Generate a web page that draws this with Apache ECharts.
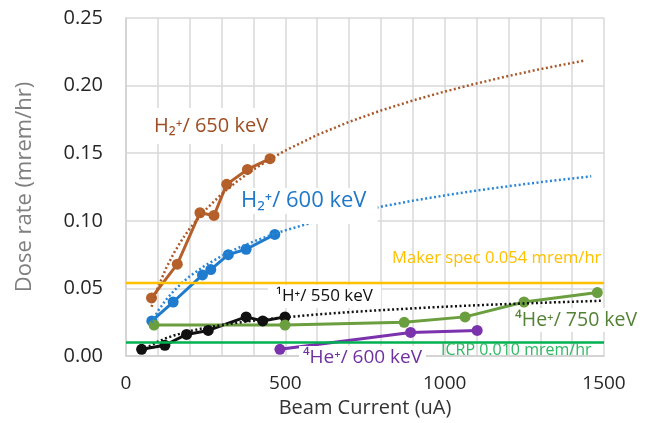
<!DOCTYPE html>
<html>
<head>
<meta charset="utf-8">
<script src="https://cdn.jsdelivr.net/npm/echarts@6/dist/echarts.min.js"></script>
<style>html,body{margin:0;padding:0;background:#fff;}#c{width:657px;height:423px;}</style>
</head>
<body>
<div id="c"></div>
<script>
// ---- data ----
const h2_650X = [80, 161, 232, 276, 316, 381, 452];
const h2_650Y = [0.043, 0.068, 0.106, 0.104, 0.127, 0.138, 0.146];
const h2_650TrendX = [80, 100, 125, 150, 175, 200, 250, 300, 350, 400, 450, 500, 600, 700, 800, 900, 1000, 1100, 1200, 1300, 1440];
const h2_650TrendY = [0.0365, 0.0506, 0.0646, 0.0761, 0.0858, 0.0943, 0.1083, 0.1198, 0.1295, 0.1379, 0.1453, 0.152, 0.1635, 0.1732, 0.1816, 0.189, 0.1956, 0.2016, 0.2071, 0.2122, 0.2186];

const h2_600X = [81, 148, 240, 266, 321, 377, 467];
const h2_600Y = [0.026, 0.040, 0.060, 0.064, 0.075, 0.079, 0.090];
const h2_600TrendX = [80, 100, 125, 150, 175, 200, 250, 300, 350, 400, 450, 500, 600, 700, 800, 900, 1000, 1100, 1200, 1300, 1460];
const h2_600TrendY = [0.0249, 0.0332, 0.0415, 0.0482, 0.0540, 0.0590, 0.0673, 0.0740, 0.0798, 0.0847, 0.0891, 0.0930, 0.0998, 0.1056, 0.1105, 0.1149, 0.1188, 0.1224, 0.1256, 0.1286, 0.1329];

const h1_550X = [49, 122, 190, 258, 377, 429, 499];
const h1_550Y = [0.005, 0.008, 0.016, 0.019, 0.029, 0.026, 0.029];
const h1_550TrendX = [50, 75, 100, 125, 150, 200, 250, 300, 350, 400, 450, 500, 600, 700, 800, 900, 1000, 1100, 1200, 1300, 1490];
const h1_550TrendY = [0.0029, 0.0075, 0.0107, 0.0132, 0.0152, 0.0185, 0.0210, 0.0230, 0.0247, 0.0262, 0.0275, 0.0287, 0.0308, 0.0325, 0.0340, 0.0353, 0.0365, 0.0376, 0.0385, 0.0394, 0.0409];

const he4_750X = [88, 499, 873, 1064, 1249, 1479];
const he4_750Y = [0.023, 0.023, 0.025, 0.029, 0.040, 0.047];

const he4_600X = [483, 893, 1102];
const he4_600Y = [0.005, 0.0175, 0.019];

const makerSpec = 0.054;
const icrp = 0.010;

const xTickLabels = [0, 500, 1000, 1500];
const yTickStep = 0.05;

const pairs = (xs, ys) => xs.map((x, i) => [x, ys[i]]);

const chart = echarts.init(document.getElementById('c'), null, {renderer: 'canvas'});
const FONT = '"Open Sans", "Noto Sans", sans-serif';

function dataSeries(name, xs, ys, color) {
  return {
    name, type: 'line', data: pairs(xs, ys),
    symbol: 'circle', symbolSize: 11,
    lineStyle: {color, width: 3},
    itemStyle: {color},
    z: 3, animation: false
  };
}
function trendSeries(name, xs, ys, color) {
  return {
    name, type: 'line', data: pairs(xs, ys),
    showSymbol: false, symbol: 'none',
    smooth: false,
    lineStyle: {color, width: 2.5, type: [2, 2.5]},
    z: 4, animation: false
  };
}
function hLine(name, val, color) {
  return {
    name, type: 'line', data: [[0, val], [1500, val]],
    showSymbol: false, symbol: 'none',
    lineStyle: {color, width: 2.5},
    z: 5, animation: false
  };
}

const BROWN = '#B5602A', BLUE = '#1F7BCD', BLACK = '#111111', GREEN = '#6A9E3F', PURPLE = '#7A33AD';

chart.setOption({
  animation: false,
  backgroundColor: '#ffffff',
  grid: {left: 126, right: 53, top: 18, bottom: 66},
  xAxis: {
    type: 'value', min: 0, max: 1500, interval: 100,
    name: 'Beam Current (uA)', nameLocation: 'middle', nameGap: 41,
    nameTextStyle: {fontFamily: FONT, fontSize: 20, color: '#333333'},
    axisLine: {show: true, lineStyle: {color: '#d0d0d0', width: 1.5}},
    axisTick: {show: false},
    axisLabel: {
      fontFamily: FONT, fontSize: 19, color: '#262626', margin: 18,
      formatter: v => xTickLabels.indexOf(v) >= 0 ? String(v) : ''
    },
    splitLine: {show: true, lineStyle: {color: '#d9d9d9', width: 1.5}}
  },
  yAxis: {
    type: 'value', min: 0, max: 0.25, interval: yTickStep,
    name: 'Dose rate (mrem/hr)', nameLocation: 'middle', nameGap: 90,
    nameTextStyle: {fontFamily: FONT, fontSize: 22, color: '#7f7f7f'},
    axisLine: {show: true, lineStyle: {color: '#d0d0d0', width: 1.5}},
    axisTick: {show: false},
    axisLabel: {fontFamily: FONT, fontSize: 20, color: '#262626', margin: 23,
      formatter: v => v.toFixed(2)},
    splitLine: {show: true, lineStyle: {color: '#d9d9d9', width: 1.5}}
  },
  series: [
    dataSeries('H2+ 650 keV', h2_650X, h2_650Y, BROWN),
    trendSeries('H2+ 650 trend', h2_650TrendX, h2_650TrendY, '#A9582A'),
    dataSeries('H2+ 600 keV', h2_600X, h2_600Y, BLUE),
    trendSeries('H2+ 600 trend', h2_600TrendX, h2_600TrendY, '#2A86D6'),
    dataSeries('1H+ 550 keV', h1_550X, h1_550Y, BLACK),
    trendSeries('1H+ 550 trend', h1_550TrendX, h1_550TrendY, '#111111'),
    dataSeries('4He+ 750 keV', he4_750X, he4_750Y, GREEN),
    dataSeries('4He+ 600 keV', he4_600X, he4_600Y, PURPLE),
    hLine('Maker spec', makerSpec, '#FFC000'),
    hLine('ICRP', icrp, '#00B050')
  ],
  graphic: [
    {type: 'text', left: 146, top: 108, z: 100,
      style: {text: 'H\u2082\u207A/ 650 keV', font: '20px ' + FONT, fill: '#9E4E22',
        backgroundColor: '#ffffff', padding: [8, 8, 8, 8]}},
    {type: 'text', left: 300, top: 188, z: 99,
      style: {text: ' ', font: '22px ' + FONT, fill: '#ffffff',
        backgroundColor: '#ffffff', padding: [2, 36, 12, 36]}},
    {type: 'text', left: 236, top: 188, z: 100,
      style: {text: 'H\u2082\u207A/ 600 keV', font: '22px ' + FONT, fill: '#1F78C8',
        backgroundColor: '#ffffff', padding: [2, 5, 2, 5]}},
    {type: 'text', left: 392, top: 250, z: 100,
      style: {text: 'Maker spec 0.054 mrem/hr', font: '16.6px ' + FONT, fill: '#FFC000'}},
    {type: 'text', left: 268, top: 285, z: 100,
      style: {text: '\u00B9H\u207A/ 550 keV', font: '17px ' + FONT, fill: '#111111',
        backgroundColor: '#ffffff', padding: [3, 8, 3, 8]}},
    {type: 'text', left: 511, top: 308, z: 100,
      style: {text: '\u2074He\u207A/ 750 keV', font: '19.5px ' + FONT, fill: '#548235',
        backgroundColor: '#ffffff', padding: [2, 4, 2, 4]}},
    {type: 'text', left: 441, top: 342, z: 100,
      style: {text: 'ICRP 0.010 mrem/hr', font: '16px ' + FONT, fill: '#2DB862'}},
    {type: 'text', left: 299, top: 346, z: 100,
      style: {text: '\u2074He\u207A/ 600 keV', font: '19px ' + FONT, fill: '#7030A0',
        backgroundColor: '#ffffff', padding: [2, 4, 2, 4]}}
  ]
});
</script>
</body>
</html>
